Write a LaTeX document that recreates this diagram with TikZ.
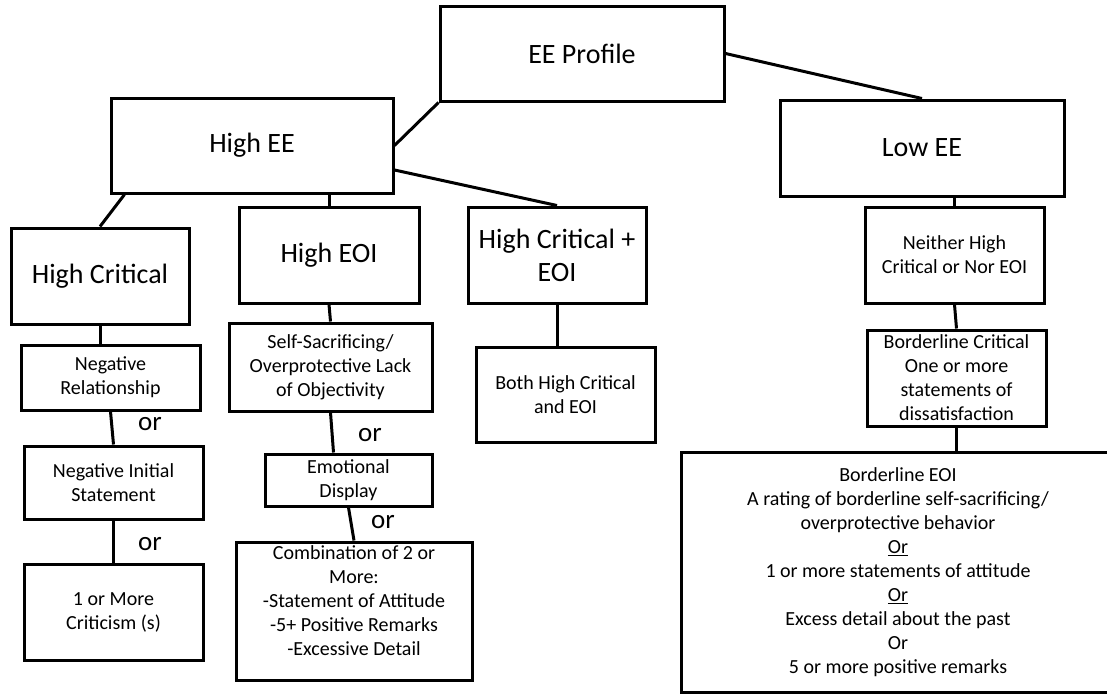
\documentclass[tikz,border=0pt]{standalone}
\usepackage{fontspec}
\setmainfont{Carlito}
\usetikzlibrary{calc}

\tikzset{
  box/.style={draw,line width=3pt,align=center,inner sep=2pt},
  bigtxt/.style={font=\fontsize{28}{33}\selectfont},
  midtxt/.style={font=\fontsize{28}{33}\selectfont},
  smalltxt/.style={font=\fontsize{20}{24}\selectfont},
  ortxt/.style={font=\fontsize{27}{28}\selectfont},
  link/.style={line width=3pt}
}

\begin{document}
\begin{tikzpicture}[x=1pt,y=-1pt]
\useasboundingbox (0,0) rectangle (1107,694);

% Top levels
\node[box,bigtxt,minimum width=284pt,minimum height=95pt] (profile) at (582,53.5) {EE Profile};
\node[box,bigtxt,minimum width=282pt,minimum height=95pt] (highee) at (252,145.5) {High EE};
\node[box,bigtxt,minimum width=284pt,minimum height=96pt] (lowee) at (922,148) {Low EE};

% High EE branches
\node[box,midtxt,minimum width=178pt,minimum height=96pt] (hicrit) at (100,276) {High Critical};
\node[box,midtxt,minimum width=180pt,minimum height=96pt] (hieoi) at (329,255) {High EOI};
\node[box,midtxt,minimum width=178pt,minimum height=96pt] (hiboth) at (557,255) {High Critical +\\EOI};

% Low EE branch
\node[box,smalltxt,minimum width=179pt,minimum height=96pt] (neither) at (954.5,255) {Neither High\\Critical or Nor EOI};

% High Critical column
\node[box,smalltxt,minimum width=179pt,minimum height=65pt] (negrel) at (110.5,377.5) {Negative\\Relationship};
\node[box,smalltxt,minimum width=179pt,minimum height=73pt] (neginit) at (113.5,482.5) {Negative Initial\\Statement};
\node[box,smalltxt,minimum width=179pt,minimum height=96pt] (critic) at (113.5,612) {1 or More\\Criticism (s)};

% High EOI column
\node[box,smalltxt,minimum width=203pt,minimum height=88pt] (selfsac) at (330.5,367) {Self-Sacrificing/\\Overprotective Lack\\of Objectivity};
\node[box,smalltxt,minimum width=167pt,minimum height=52pt,inner sep=0pt] (emo) at (348.5,480) {Emotional\\Display};
\node[box,smalltxt,minimum width=236pt,minimum height=138pt] (combo) at (354,611) {Combination of 2 or\\More:\\-Statement of Attitude\\-5+ Positive Remarks\\-Excessive Detail\\[-4pt]\mbox{}};

% Both column
\node[box,smalltxt,minimum width=179pt,minimum height=95pt] (both) at (565.5,394.5) {Both High Critical\\and EOI};

% Low EE column
\node[box,smalltxt,minimum width=179pt,minimum height=96pt,inner sep=0pt] (bcrit) at (956.5,378) {Borderline Critical\\One or more\\statements of\\dissatisfaction};
\node[box,smalltxt,minimum width=434pt,minimum height=240pt] (beoi) at (898,572) {Borderline EOI\\A rating of borderline self-sacrificing/\\overprotective behavior\\\underline{Or}\\1 or more statements of attitude\\\underline{Or}\\Excess detail about the past\\Or\\5 or more positive remarks};

% "or" labels
\node[ortxt] (or1) at (150,424) {or};
\node[ortxt] (or2) at (150,544) {or};
\node[ortxt] (or3) at (370,435) {or};
\node[ortxt] (or4) at (383,522) {or};

% Connectors
\draw[link] (profile.south west) -- (highee.east);
\draw[link] (profile.east) -- (lowee.north);
\draw[link] (hieoi.north |- highee.south) -- (hieoi.north);
\draw[link] ($(highee.east)!0.5!(highee.south east)$) -- (hiboth.north);
\draw[link] ($(highee.south west)+(15,0)$) -- (hicrit.north);
\draw[link] (hicrit.south) -- (hicrit.south |- negrel.north);
\draw[link] (negrel.south) -- (neginit.north);
\draw[link] (neginit.south) -- (critic.north);
\draw[link] (hieoi.south) -- (selfsac.north);
\draw[link] (selfsac.south) -- ($(emo.north)+(-15,0)$);
\draw[link] (emo.south) -- (combo.north);
\draw[link] (hiboth.south) -- (hiboth.south |- both.north);
\draw[link] (neither.north |- lowee.south) -- (neither.north);
\draw[link] (neither.south) -- (bcrit.north);
\draw[link] (bcrit.south) -- (bcrit.south |- beoi.north);
\end{tikzpicture}
\end{document}
